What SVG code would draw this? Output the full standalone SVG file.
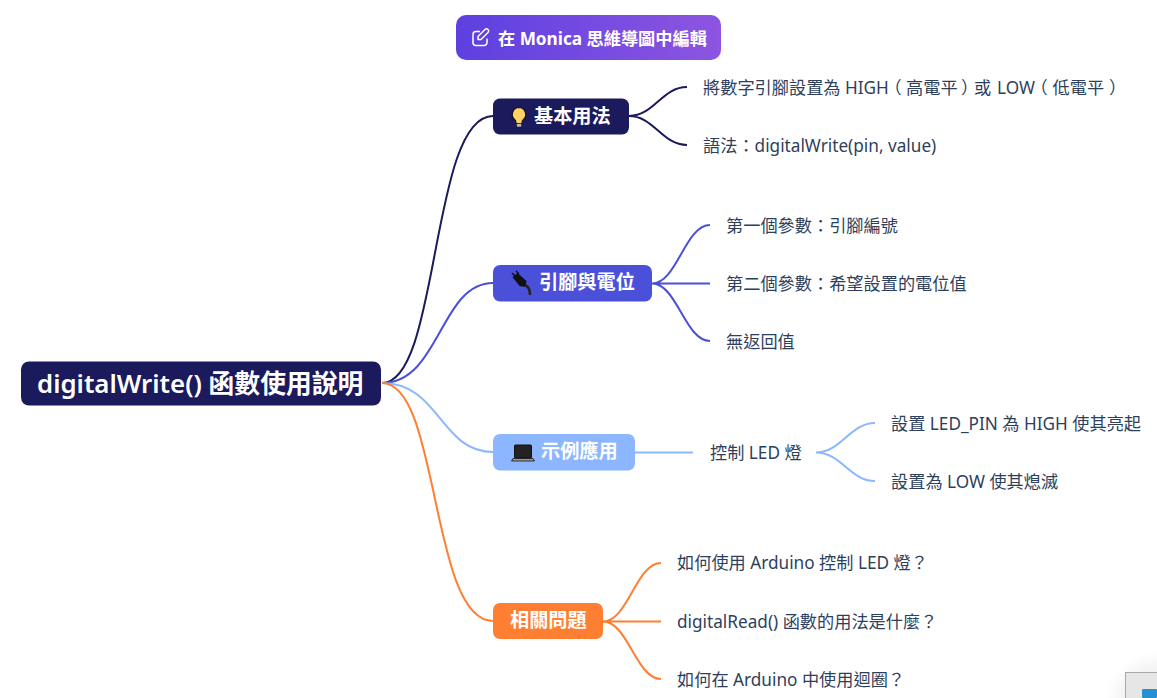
<svg xmlns="http://www.w3.org/2000/svg" width="1157" height="698" viewBox="0 0 1157 698">
<defs>
<linearGradient id="g" x1="0" y1="0" x2="1" y2="0"><stop offset="0" stop-color="#5d40e0"/><stop offset="1" stop-color="#8d55e0"/></linearGradient>
<radialGradient id="sh" cx="1" cy="1" r="1"><stop offset="0" stop-color="#000" stop-opacity=".12"/><stop offset="1" stop-color="#000" stop-opacity="0"/></radialGradient>
</defs>
<style>
text{font-family:"Noto Sans","Noto Sans CJK TC",sans-serif;text-spacing-trim:space-all}
.n{font-weight:700;fill:#fff;font-size:19.200px}
.l{font-size:17.200px;fill:#2e3f5c}
.p{font-feature-settings:"halt" 1}
.c{fill:none;stroke-width:2}
</style>
<rect width="1157" height="698" fill="#fff"/>
<g id="connectors">
<path class="c" stroke="#1a1a5c" d="M382 383C440 383 430 116 493 116"/>
<path class="c" stroke="#4b50d8" d="M382 383C440 383 440 283 493 283"/>
<path class="c" stroke="#8cb6ff" d="M382 383C440 383 440 452 493 452"/>
<path class="c" stroke="#ff7f32" d="M382 383C440 383 430 621 493 621"/>
<path class="c" stroke="#1a1a5c" d="M629 116C654 116 662 87 687 87M629 116C654 116 662 145 687 145"/>
<path class="c" stroke="#4b50d8" d="M652 283.500C677 283.500 685 225 710 225M652 283.500H710M652 283.500C677 283.500 685 341 710 341"/>
<path class="c" stroke="#8cb6ff" d="M635 452.500H693M816 452.500C841 452.500 850 423 875 423M816 452.500C841 452.500 850 481 875 481"/>
<path class="c" stroke="#ff7f32" d="M603 621.500C628 621.500 636 563 661 563M603 621.500H661M603 621.500C628 621.500 636 679 661 679"/>
</g>
<g id="edit-button">
<rect x="456" y="15" width="265" height="45" rx="10" fill="url(#g)"/>
<path d="M480 31.500h-4a3 3 0 0 0-3 3v8a3 3 0 0 0 3 3h8a3 3 0 0 0 3-3v-4M478 39.500v-3l7-7a2 2 0 0 1 3 3l-7 7z" fill="none" stroke="#fff" stroke-width="1.500" stroke-linejoin="round"/>
<text x="498" y="44.500" class="n" style="font-size:17.200px">在 Monica 思維導圖中編輯</text>
</g>
<g id="root">
<rect x="21" y="361.500" width="360" height="44" rx="8" fill="#1a1a5c"/>
<text x="37" y="393" class="n" style="font-size:25.800px;font-weight:600">digitalWrite() 函數使用說明</text>
</g>
<g id="basic">
<rect x="493" y="98.500" width="136" height="36" rx="7" fill="#1a1a5c"/>
<path d="M519 107.500a7 7 0 0 1 4 12.500q-1 1-1 3.500h-6q0-2.500-1-3.500a7 7 0 0 1 4-12.500z" fill="#ffd166" stroke="#111" stroke-width="1.200"/>
<rect x="516.500" y="123.500" width="5" height="3.500" fill="#bbb" stroke="#111" stroke-width=".6"/>
<text x="534" y="123" class="n">基本用法</text>
</g>
<g id="pins">
<rect x="493" y="265" width="159" height="36.500" rx="7" fill="#4b50d8"/>
<path d="M512.500 277l5-4 9 8-1 6-6-1z" fill="#111"/><path d="M512 273l3 3M516 271l3 3" stroke="#111" stroke-width="1.500"/><path d="M525 285q5 2 5 10" fill="none" stroke="#222" stroke-width="2.500"/>
<text x="539" y="289" class="n">引腳與電位</text>
</g>
<g id="example">
<rect x="493" y="434" width="142" height="36.500" rx="7" fill="#8cb6ff"/>
<rect x="514.500" y="445" width="17" height="13" rx="1" fill="#222" stroke="#111"/>
<path d="M513 458.500h20l1.500 2.500h-23z" fill="#999" stroke="#111" stroke-width=".8"/>
<text x="541" y="458" class="n">示例應用</text>
</g>
<g id="questions">
<rect x="493" y="603" width="110" height="36" rx="7" fill="#ff7f32"/>
<text x="510" y="627" class="n">相關問題</text>
</g>
<g id="leaves">
<text x="703" y="93.500" class="l">將數字引腳設置為 HIGH<tspan class="p" x="893">（</tspan><tspan x="906">高電平</tspan><tspan class="p" x="961">）</tspan><tspan x="974">或</tspan><tspan x="997">LOW</tspan><tspan class="p" x="1039">（</tspan><tspan x="1052.500">低電平</tspan><tspan class="p" x="1109">）</tspan></text>
<text x="703" y="151.500" class="l">語法：digitalWrite(pin, value)</text>
<text x="726" y="231.500" class="l">第一個參數：引腳編號</text>
<text x="726" y="289.500" class="l">第二個參數：希望設置的電位值</text>
<text x="726" y="347.500" class="l">無返回值</text>
<text x="710" y="458.500" class="l">控制 LED 燈</text>
<text x="891" y="429.500" class="l">設置 LED_PIN 為 HIGH 使其亮起</text>
<text x="891" y="487.500" class="l">設置為 LOW 使其熄滅</text>
<text x="677" y="568.500" class="l">如何使用 Arduino 控制 LED 燈？</text>
<text x="677" y="627.500" class="l">digitalRead() 函數的用法是什麼？</text>
<text x="677" y="685.500" class="l">如何在 Arduino 中使用迴圈？</text>
</g>
<g id="corner">
<rect x="1105" y="652" width="52" height="46" fill="url(#sh)"/>
<rect x="1125.500" y="672.500" width="32" height="26" fill="#e6e6e6" stroke="#a8a8a8"/>
<rect x="1142" y="689" width="15" height="9" rx="1" fill="#2a8fd0"/>
</g>
</svg>
